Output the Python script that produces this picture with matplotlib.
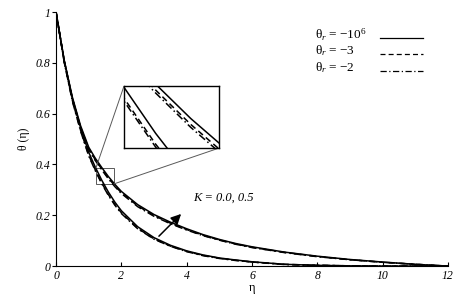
import matplotlib
matplotlib.use("Agg")
import matplotlib.pyplot as plt
from mpl_toolkits.axes_grid1.inset_locator import mark_inset

plt.rcParams['font.family'] = ['Liberation Serif', 'DejaVu Serif']
plt.rcParams['mathtext.fontset'] = 'custom'
plt.rcParams['mathtext.rm'] = 'Liberation Serif'
plt.rcParams['mathtext.it'] = 'Liberation Serif:italic'

# eta grid and temperature profiles
eta = [0, 0.25, 0.5, 0.75, 1.0, 1.2, 1.4, 1.6, 1.8, 2.0, 2.5, 3.0, 3.5, 4.0,
       4.5, 5.0, 5.5, 6.0, 7.0, 8.0, 9.0, 10.0, 11.0, 12.0]

# K = 0.5 (upper group)
up_1e6 = [1, 0.81, 0.665, 0.553, 0.468, 0.425, 0.388, 0.353, 0.322, 0.294, 0.242, 0.203,
          0.173, 0.147, 0.124, 0.105, 0.089, 0.076, 0.055, 0.039, 0.026, 0.016, 0.007, 0.0]
up_m3 = [1, 0.807, 0.660, 0.547, 0.462, 0.419, 0.382, 0.347, 0.316, 0.289, 0.237, 0.199,
         0.169, 0.144, 0.121, 0.103, 0.087, 0.074, 0.054, 0.038, 0.025, 0.015, 0.007, 0.0]
up_m2 = [1, 0.805, 0.657, 0.544, 0.459, 0.416, 0.379, 0.344, 0.313, 0.286, 0.234, 0.196,
         0.167, 0.142, 0.120, 0.102, 0.086, 0.073, 0.053, 0.037, 0.025, 0.015, 0.007, 0.0]

# K = 0.0 (lower group)
lo_1e6 = [1, 0.81, 0.66, 0.545, 0.448, 0.39, 0.338, 0.292, 0.252, 0.218, 0.155, 0.112,
          0.082, 0.060, 0.044, 0.032, 0.024, 0.017, 0.007, 0.003, 0.001, 0.0, 0.0, 0.0]
lo_m3 = [1, 0.805, 0.652, 0.535, 0.437, 0.379, 0.327, 0.282, 0.243, 0.210, 0.149, 0.107,
         0.079, 0.058, 0.042, 0.031, 0.023, 0.016, 0.007, 0.003, 0.001, 0.0, 0.0, 0.0]
lo_m2 = [1, 0.803, 0.649, 0.532, 0.434, 0.376, 0.324, 0.279, 0.240, 0.207, 0.147, 0.106,
         0.078, 0.057, 0.041, 0.030, 0.022, 0.016, 0.006, 0.003, 0.001, 0.0, 0.0, 0.0]

labels = ['θ$_r$ = $\\mathit{-10^6}$', 'θ$_r$ = $\\mathit{-3}$', 'θ$_r$ = $\\mathit{-2}$']
styles = ['-', (0, (4, 2.5)), (0, (5, 2, 1, 2))]
xticks = [0, 2, 4, 6, 8, 10, 12]
yticks = [0, 0.2, 0.4, 0.6, 0.8, 1]
ytick_labels = ['0', '0.2', '0.4', '0.6', '0.8', '1']

fig = plt.figure(figsize=(4.75, 2.95), dpi=100)
ax = fig.add_axes([0.118, 0.098, 0.825, 0.861])

groups = [(up_1e6, up_m3, up_m2), (lo_1e6, lo_m3, lo_m2)]


def draw(a, lw):
    for grp in groups:
        for vals, ls in zip(grp, styles):
            a.plot(eta, vals, color='black', lw=lw, linestyle=ls)


draw(ax, 1.1)
ax.set_xlim(0, 12)
ax.set_ylim(0, 1)
ax.spines['top'].set_visible(False)
ax.spines['right'].set_visible(False)
ax.set_xticks(xticks)
ax.set_xticklabels([str(t) for t in xticks], style='italic', fontsize=8.5)
ax.set_yticks(yticks)
ax.set_yticklabels(ytick_labels, style='italic', fontsize=8.5)
ax.tick_params(axis='x', direction='in', length=3, pad=3)
ax.tick_params(axis='y', direction='out', length=3, pad=1)
ax.set_xlabel('η', fontsize=9, labelpad=0)
ax.set_ylabel('θ (η)', fontsize=8.5, labelpad=4)

# legend: text on the left, line sample on the right
leg_y = [0.898, 0.835, 0.768]
for lab, ls, y in zip(labels, styles, leg_y):
    ax.text(0.661, y + 0.012, lab, transform=ax.transAxes, fontsize=9.5,
            va='center', ha='left')
    ax.plot([0.827, 0.936], [y, y], transform=ax.transAxes, color='black',
            lw=0.9, linestyle=ls, clip_on=False)

ax.annotate('', xy=(3.89, 0.213), xytext=(3.09, 0.11),
            arrowprops=dict(arrowstyle='-|>,head_length=0.6,head_width=0.3',
                            color='black', lw=1.1))
ax.text(4.19, 0.268, 'K = 0.0, 0.5', style='italic', fontsize=9, va='center', ha='left')

# zoomed inset
axins = fig.add_axes([0.261, 0.498, 0.2, 0.21])
draw(axins, 1.1)
axins.set_xlim(1.22, 1.76)
axins.set_ylim(0.323, 0.386)
axins.set_xticks([])
axins.set_yticks([])
for s in axins.spines.values():
    s.set_linewidth(1.0)
mark_inset(ax, axins, loc1=2, loc2=4, fc='none', ec='0.35', lw=0.7)

fig.savefig('out.png', dpi=100)
